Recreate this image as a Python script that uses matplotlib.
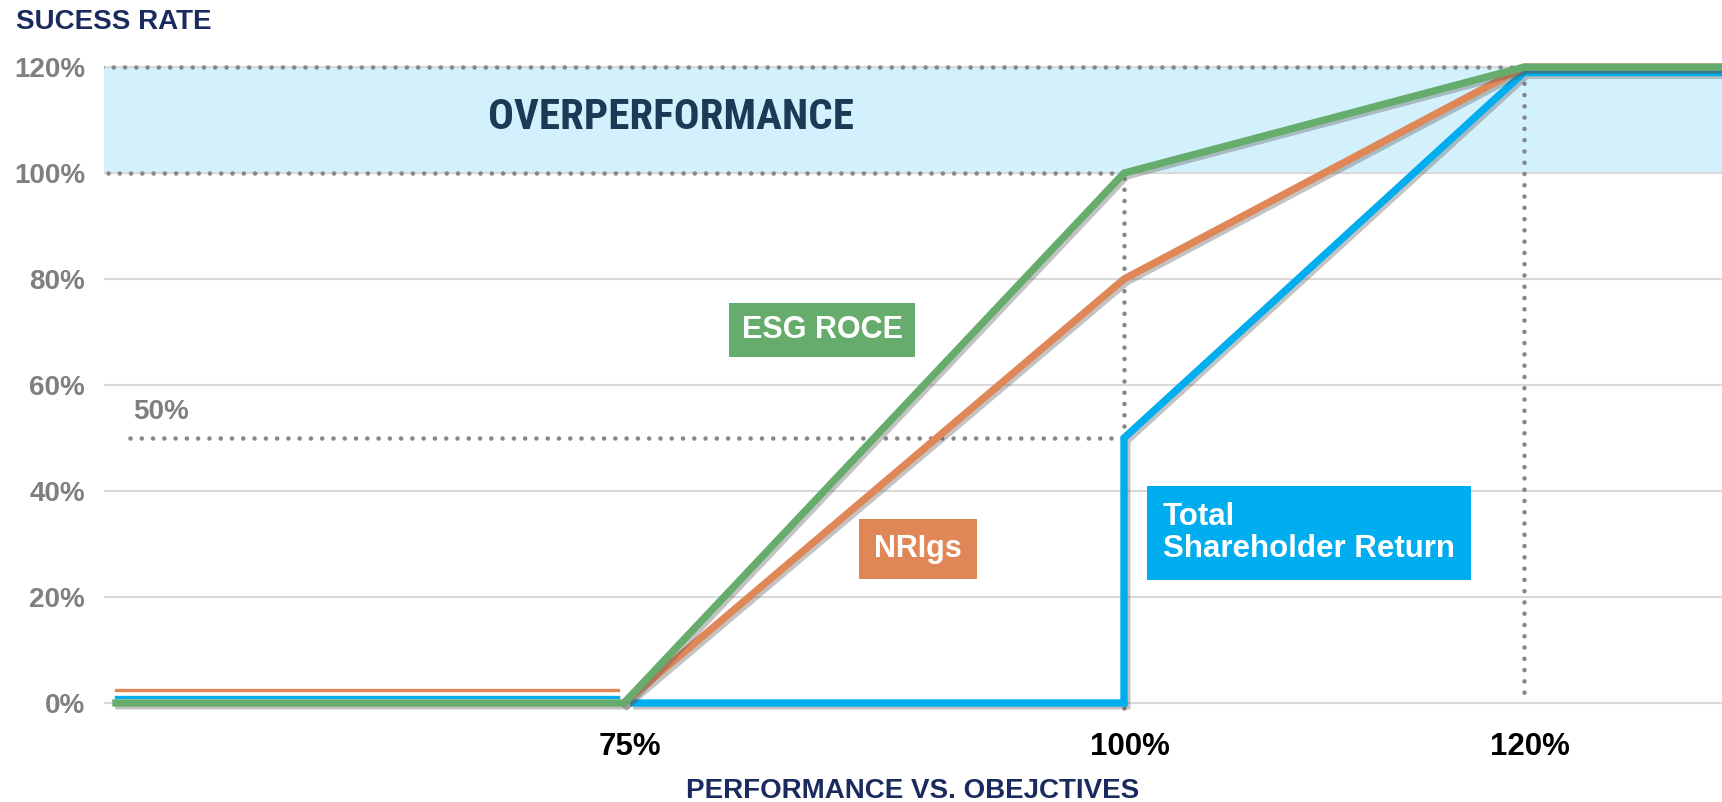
import matplotlib
matplotlib.use("Agg")
import matplotlib.pyplot as plt
import matplotlib.patheffects as pe
from matplotlib.transforms import ScaledTranslation

plt.rcParams['font.family'] = ['Liberation Sans', 'DejaVu Sans']

# performance vs objectives (%) -> success rate (%)
esg_x = [49.6, 75, 100, 120, 131]
esg_y = [0, 0, 100, 120, 120]

nri_x = [75, 100, 120, 131]
nri_y = [0, 80, 120, 120]
nri_stub_x = [49.6, 74.7]
nri_stub_y = [2.4, 2.4]

tsr_x = [75.5, 100, 100, 120, 131]
tsr_y = [0, 0, 50, 119, 119]
tsr_stub_x = [49.6, 74.7]
tsr_stub_y = [1.1, 1.1]

y_ticks = [0, 20, 40, 60, 80, 100, 120]
y_labels = ["0%", "20%", "40%", "60%", "80%", "100%", "120%"]
x_ticks = [75, 100, 120]
x_labels = ["75%", "100%", "120%"]

green = "#66ac6c"
orange = "#e08757"
blue = "#00adee"
dotc = "#878787"
navy = "#1b2a5e"

fig = plt.figure(figsize=(17.22, 8.02), dpi=100)
ax = fig.add_axes([104/1722, 0.0904, 1 - 104/1722, 0.892])
ax.set_xlim(49, 129.9)
ax.set_ylim(-5, 130)

# overperformance band
ax.axhspan(100, 120, color="#d3f1fd", zorder=0, lw=0)
for v in y_ticks:
    ax.axhline(v, color="#d9d9d9", lw=1.5, zorder=0.5)

dot = dict(color=dotc, lw=3.3, linestyle=(0, (0.01, 2.45)), dash_capstyle="round", zorder=1)
ax.plot([48.9, 120], [120, 120], **dot)
ax.plot([49.2, 100], [100, 100], **dot)
ax.plot([50.3, 100], [50, 50], **dot)
ax.plot([100, 100], [99, -2], **dot)
ax.plot([120, 120], [119, 0], **dot)

shadow = [pe.SimpleLineShadow(offset=(2, -2), shadow_color="#555555", alpha=0.35), pe.Normal()]

ax.plot(nri_stub_x, nri_stub_y, color=orange, lw=2.4, zorder=2)
ax.plot(tsr_stub_x, tsr_stub_y, color=blue, lw=2.4, zorder=2)
ax.plot(tsr_x, tsr_y, color=blue, lw=5.3, solid_joinstyle="miter", zorder=3, path_effects=shadow)
ax.plot(nri_x, nri_y, color=orange, lw=5.3, solid_joinstyle="round", zorder=4, path_effects=shadow)
ax.plot(esg_x, esg_y, color=green, lw=5.3, solid_joinstyle="round", zorder=5, path_effects=shadow)

# labels
ax.text(84.9, 70.4, "ESG ROCE", color="white", fontsize=22, fontweight="bold",
        ha="center", va="center", zorder=6,
        bbox=dict(boxstyle="square,pad=0.4", fc=green, ec="none"))
ax.text(89.7, 29.1, "NRIgs", color="white", fontsize=22, fontweight="bold",
        ha="center", va="center", zorder=6,
        bbox=dict(boxstyle="square,pad=0.5", fc=orange, ec="none"))
ax.text(101.95, 32.1, "Total\nShareholder Return", color="white", fontsize=22.5,
        fontweight="bold", ha="left", va="center", linespacing=1.1, zorder=6,
        bbox=dict(boxstyle="square,pad=0.5", fc=blue, ec="none"))
ax.text(50.45, 54.9, "50%", color="#7f7f7f", fontsize=20, fontweight="bold",
        ha="left", va="center", zorder=6)
ax.text(68.2, 110.4, "OVERPERFORMANCE", color="#1b3a55", fontsize=31, fontweight="bold",
        family=["Roboto Condensed", "Liberation Sans Narrow", "Roboto"],
        ha="left", va="center", zorder=6)

ax.set_yticks(y_ticks, y_labels)
ax.set_xticks(x_ticks, x_labels)
ax.tick_params(axis="y", length=0, pad=13.5, labelsize=20, labelcolor="#7f7f7f")
ax.tick_params(axis="x", length=0, pad=2, labelsize=22.5, labelcolor="black")
for lbl in ax.get_yticklabels() + ax.get_xticklabels():
    lbl.set_fontweight("bold")
off = ScaledTranslation(6/100, 0, fig.dpi_scale_trans)
for lbl in ax.get_xticklabels():
    lbl.set_transform(lbl.get_transform() + off)

ax.set_xlabel("PERFORMANCE VS. OBEJCTIVES", fontsize=20, fontweight="bold", color=navy, labelpad=11)
for s in ax.spines.values():
    s.set_visible(False)

fig.text(16/1722, 1 - 29/802, "SUCESS RATE", fontsize=20, fontweight="bold", color=navy,
         ha="left", va="baseline")

fig.savefig("out.png", dpi=100)
